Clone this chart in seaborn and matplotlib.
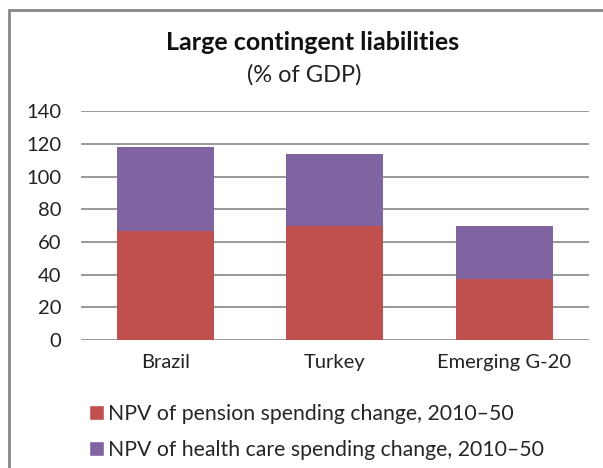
import matplotlib
matplotlib.use("Agg")
import matplotlib.pyplot as plt
from matplotlib.lines import Line2D
from matplotlib.patches import Patch
import seaborn as sns
import pandas as pd

# values (% of GDP)
countries = ["Brazil", "Turkey", "Emerging G-20"]
pension = [66.5, 69.8, 37.1]
health = [51.6, 44.0, 32.7]

series_labels = ["NPV of pension spending change, 2010\u201350",
                 "NPV of health care spending change, 2010\u201350"]
RED = "#C0504D"
PURPLE = "#8064A2"
GRID = "#868686"

df = pd.DataFrame({"country": countries, "pension": pension, "health": health})
df["total"] = df["pension"] + df["health"]

sns.set_style("white")
plt.rcParams["font.family"] = ["Lato", "DejaVu Sans"]

fig = plt.figure(figsize=(6.03, 4.68), dpi=100)
ax = fig.add_axes([0.1338, 0.2735, 0.8425, 0.4887])

# stacked bars: total (purple) behind, pension (red) in front
sns.barplot(data=df, x="country", y="total", color=PURPLE, saturation=1,
            width=0.573, linewidth=0, ax=ax, zorder=2)
sns.barplot(data=df, x="country", y="pension", color=RED, saturation=1,
            width=0.573, linewidth=0, ax=ax, zorder=3)

ax.set_ylim(0, 140)
ax.set_yticks(range(0, 141, 20))
ax.yaxis.grid(True, color=GRID, lw=1.2)
ax.set_axisbelow(True)
for s in ax.spines.values():
    s.set_visible(False)
ax.tick_params(length=0, labelsize=14.5, colors="#222222")
ax.tick_params(axis="y", pad=14)
ax.tick_params(axis="x", pad=10)
ax.set_xlabel("")
ax.set_ylabel("")

fig.text(0.518, 0.91, "Large contingent liabilities", ha="center", va="center",
         fontsize=18, fontweight="bold", color="#111111")
fig.text(0.505, 0.84, "(% of GDP)", ha="center", va="center",
         fontsize=17, color="#222222")

handles = [Patch(facecolor=RED), Patch(facecolor=PURPLE)]
fig.legend(handles, series_labels, loc="upper left",
           bbox_to_anchor=(0.147, 0.136), frameon=False, fontsize=15.3,
           handlelength=0.7, handleheight=0.7, handletextpad=0.2,
           labelspacing=0.75, borderpad=0, borderaxespad=0)

# partial chart frame (left and top edges visible in the reference)
fig.add_artist(Line2D([9 / 603, 9 / 603], [0, 1 - 10 / 468],
                      transform=fig.transFigure, color=GRID, lw=2))
fig.add_artist(Line2D([9 / 603, 1], [1 - 10 / 468, 1 - 10 / 468],
                      transform=fig.transFigure, color=GRID, lw=2))

fig.savefig("out.png", dpi=100)
